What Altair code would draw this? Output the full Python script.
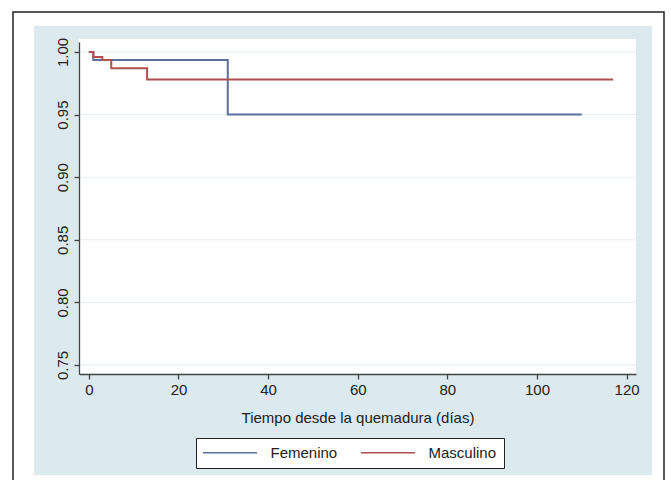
import altair as alt
import pandas as pd

# ---- data ----
groups = ["Femenino", "Masculino"]
fem_t = [0, 1, 31, 110]
fem_s = [1.0, 0.9936, 0.950, 0.950]
mas_t = [0, 1, 3, 5, 13, 117]
mas_s = [1.0, 0.996, 0.9936, 0.987, 0.978, 0.978]
x_ticks = [0, 20, 40, 60, 80, 100, 120]
y_ticks = [0.75, 0.80, 0.85, 0.90, 0.95, 1.00]
colors = ["#5d6f9f", "#b0504c"]
x_title = "Tiempo desde la quemadura (días)"

# ---- layout ----
W, H = 557, 332
PL, PT = 79, 42
FONT = "Liberation Sans"

df = pd.DataFrame({
    "t": fem_t + mas_t,
    "s": fem_s + mas_s,
    "g": [groups[0]] * len(fem_t) + [groups[1]] * len(mas_t),
})
grid_df = pd.DataFrame({"s": y_ticks})
one = pd.DataFrame({"k": [0]})

xscale = alt.Scale(domain=[-2.2, 122.1], nice=False, zero=False)
yscale = alt.Scale(domain=[0.7428, 1.008], nice=False, zero=False)

xaxis = alt.Axis(values=x_ticks, format="d", grid=False, tickSize=5,
                 tickColor="#444", domainColor="#444", domainWidth=1.3,
                 tickWidth=1.3, labelFont=FONT, labelFontSize=15,
                 labelColor="#222", labelPadding=3, title=x_title,
                 titleFont=FONT, titleFontSize=15, titleFontWeight="normal",
                 titleColor="#222", titlePadding=13, zindex=1)
yaxis = alt.Axis(values=y_ticks, format=".2f", grid=False, tickSize=5,
                 tickColor="#444", domainColor="#444", domainWidth=1.3,
                 tickWidth=1.3, labelFont=FONT, labelFontSize=15,
                 labelColor="#222", labelPadding=4, labelAngle=270,
                 labelAlign="center", labelBaseline="bottom", title=None,
                 zindex=1)

bg = alt.Chart(one).mark_rect(fill="#dce9ee", clip=False).encode(
    x=alt.value(34 - PL), x2=alt.value(652 - PL),
    y=alt.value(26 - PT), y2=alt.value(475 - PT))
border = alt.Chart(one).mark_rect(filled=False, stroke="#222", strokeWidth=1.5,
                                  clip=False).encode(
    x=alt.value(13 - PL), x2=alt.value(664 - PL),
    y=alt.value(12 - PT), y2=alt.value(490 - PT))
white = alt.Chart(one).mark_rect(fill="white", clip=False).encode(
    x=alt.value(0), x2=alt.value(W), y=alt.value(-3), y2=alt.value(H))

grid = alt.Chart(grid_df).mark_rule(color="#e6eef2", strokeWidth=1).encode(
    y=alt.Y("s:Q", scale=yscale, axis=yaxis))

# legend symbol: a 54px horizontal stroke (path in units of sqrt(size)/2 = 5)
sym_path = "M-5.4,0H5.4"

lines = alt.Chart(df).mark_line(interpolate="step-after", strokeWidth=2).encode(
    x=alt.X("t:Q", scale=xscale, axis=xaxis),
    y=alt.Y("s:Q", scale=yscale, axis=yaxis),
    color=alt.Color("g:N", scale=alt.Scale(domain=groups, range=colors),
                    legend=alt.Legend(orient="none", legendX=117, legendY=396,
                                      direction="horizontal", title=None,
                                      symbolType=sym_path, symbolSize=100,
                                      symbolStrokeWidth=1.5, symbolOffset=19.5,
                                      labelFont=FONT, labelFontSize=15,
                                      labelColor="#222", labelOffset=33,
                                      fillColor="white", strokeColor="#222",
                                      padding=7, columnPadding=20)),
    detail="g:N",
)

chart = alt.layer(bg, border, white, grid, lines).properties(
    width=W, height=H,
    padding={"left": PL, "top": PT, "right": 671 - PL - W, "bottom": 480 - PT - H},
    autosize=alt.AutoSizeParams(type="none"),
    background="white",
).configure_view(strokeWidth=0)

chart.save("out.html", embed_options={"renderer": "svg", "actions": False})
